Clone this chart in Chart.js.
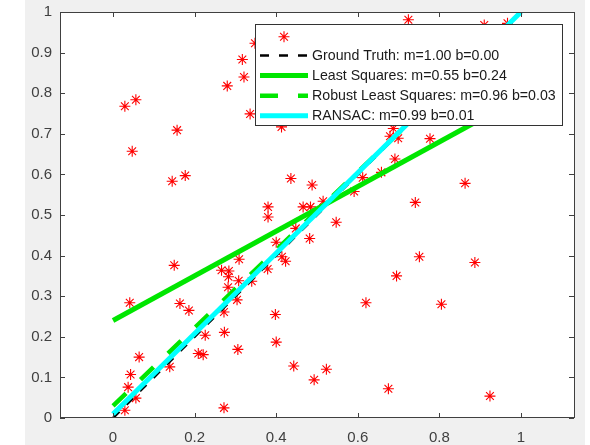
<!DOCTYPE html>
<html>
<head>
<meta charset="utf-8">
<script src="https://cdn.jsdelivr.net/npm/chart.js@4"></script>
<style>
  body { margin: 0; background: #fff; }
  canvas { display: block; }
</style>
</head>
<body>
<canvas id="fitChart" width="590" height="445"></canvas>
<script>
// noisy samples (inliers near y = x plus scattered outliers)
const pointsX = [0.029, 0.056, 0.047, 0.157, 0.145, 0.177, 0.280, 0.317, 0.321, 0.336,
                 0.348, 0.413, 0.436, 0.380, 0.380, 0.466, 0.484, 0.448, 0.724, 0.910,
                 0.967, 0.687, 0.679, 0.699, 0.777, 0.691, 0.658, 0.863, 0.612, 0.591,
                 0.741, 0.547, 0.488, 0.515, 0.482, 0.751, 0.887, 0.695, 0.620, 0.805,
                 0.443, 0.523, 0.493, 0.675, 0.924, 0.041, 0.150, 0.164, 0.186, 0.266,
                 0.284, 0.283, 0.282, 0.309, 0.308, 0.272, 0.304, 0.340, 0.379, 0.400,
                 0.414, 0.423, 0.398, 0.400, 0.273, 0.226, 0.209, 0.221, 0.306, 0.272,
                 0.064, 0.043, 0.037, 0.056, 0.029, 0.139];
const pointsY = [0.768, 0.784, 0.657, 0.709, 0.583, 0.597, 0.818, 0.883, 0.840, 0.749,
                 0.923, 0.717, 0.590, 0.520, 0.495, 0.520, 0.520, 0.467, 0.981, 0.968,
                 0.972, 0.713, 0.694, 0.689, 0.688, 0.638, 0.605, 0.578, 0.592, 0.558,
                 0.531, 0.482, 0.574, 0.534, 0.442, 0.397, 0.383, 0.350, 0.284, 0.280,
                 0.128, 0.120, 0.094, 0.072, 0.054, 0.284, 0.376, 0.282, 0.265, 0.364,
                 0.362, 0.348, 0.322, 0.391, 0.338, 0.261, 0.291, 0.337, 0.367, 0.433,
                 0.397, 0.386, 0.255, 0.187, 0.211, 0.204, 0.159, 0.156, 0.169, 0.025,
                 0.150, 0.107, 0.076, 0.049, 0.019, 0.126];

// fitted lines y = m*x + b, drawn over fitRange
const fitNames = ["Ground Truth", "Least Squares", "Robust Least Squares", "RANSAC"];
const fitSlopes = [1.00, 0.55, 0.96, 0.99];
const fitIntercepts = [0.00, 0.24, 0.03, 0.01];
const fitRange = [0, 1];

const xTicks = [0, 0.2, 0.4, 0.6, 0.8, 1];
const yTicks = [0, 0.1, 0.2, 0.3, 0.4, 0.5, 0.6, 0.7, 0.8, 0.9, 1];

const lineStyles = [
    { color: "#000000", width: 2.5, dash: [9, 10] },
    { color: "#00e600", width: 5, dash: [] },
    { color: "#00e600", width: 4.5, dash: [18, 20] },
    { color: "#00ffff", width: 5, dash: [] }
];

const axisColor = "#404040";
const fontFamily = '"Liberation Sans", Arial, Helvetica, sans-serif';

function fitLabel(i) {
    return `${fitNames[i]}: m=${fitSlopes[i].toFixed(2)} b=${fitIntercepts[i].toFixed(2)}`;
}

const datasets = [{
    label: "",
    data: pointsX.map((x, i) => ({ x: x, y: pointsY[i] })),
    showLine: false,
    pointStyle: "star",
    pointRadius: 5.5,
    borderColor: "#ff0000",
    backgroundColor: "#ff0000",
    pointBorderWidth: 1.1,
    order: 5
}];

fitNames.forEach((name, i) => {
    const s = lineStyles[i];
    datasets.push({
        label: fitLabel(i),
        data: fitRange.map(x => ({ x: x, y: fitSlopes[i] * x + fitIntercepts[i] })),
        showLine: true,
        pointRadius: 0,
        borderColor: s.color,
        borderWidth: s.width,
        borderDash: s.dash,
        borderCapStyle: "butt",
        order: 4 - i
    });
});

// star swatch for the legend's marker row
function drawStar(ctx, x, y, r) {
    const d = r * Math.SQRT1_2;
    ctx.beginPath();
    ctx.moveTo(x - r, y); ctx.lineTo(x + r, y);
    ctx.moveTo(x, y - r); ctx.lineTo(x, y + r);
    ctx.moveTo(x - d, y - d); ctx.lineTo(x + d, y + d);
    ctx.moveTo(x - d, y + d); ctx.lineTo(x + d, y - d);
    ctx.stroke();
}

function drawLegend(chart) {
    const { ctx, chartArea: a } = chart;
    ctx.save();
    ctx.font = "14.2px " + fontFamily;
    const labels = fitNames.map((n, i) => fitLabel(i));
    const right = a.right - 12;
    const top = a.top + 12;
    const left = right - 307;
    const bottom = top + 101;

    ctx.fillStyle = "#ffffff";
    ctx.fillRect(left, top, right - left, bottom - top);
    ctx.strokeStyle = "#333333";
    ctx.lineWidth = 1;
    ctx.strokeRect(left + 0.5, top + 0.5, right - left, bottom - top);

    ctx.strokeStyle = "#ff0000";
    ctx.lineWidth = 1.1;
    drawStar(ctx, left + 29, top + 12.7, 5.5);

    ctx.textBaseline = "middle";
    ctx.textAlign = "left";
    labels.forEach((t, i) => {
        const y = top + 31.5 + i * 20.1;
        const s = lineStyles[i];
        ctx.strokeStyle = s.color;
        ctx.lineWidth = s.width;
        ctx.setLineDash(s.dash);
        ctx.lineCap = "butt";
        ctx.beginPath();
        ctx.moveTo(left + 5, y);
        ctx.lineTo(left + 53, y);
        ctx.stroke();
        ctx.setLineDash([]);
        ctx.fillStyle = "#1a1a1a";
        ctx.fillText(t, left + 57, y + 0.5);
    });
    ctx.restore();
}

// figure background, axes box with inward ticks, legend
const matlabFrame = {
    id: "matlabFrame",
    beforeDraw(chart) {
        const { ctx, chartArea: a, width, height } = chart;
        ctx.save();
        ctx.fillStyle = "#ffffff";
        ctx.fillRect(0, 0, width, height);
        ctx.fillStyle = "#f0f0f0";
        ctx.fillRect(25, 0, 560, height);
        ctx.fillStyle = "#ffffff";
        ctx.fillRect(a.left, a.top, a.right - a.left, a.bottom - a.top);
        ctx.restore();
    },
    afterDraw(chart) {
        const { ctx, chartArea: a } = chart;
        drawLegend(chart);
        ctx.save();
        ctx.strokeStyle = axisColor;
        ctx.lineWidth = 1;
        ctx.strokeRect(a.left + 0.5, a.top + 0.5, a.right - a.left, a.bottom - a.top - 1);
        ctx.beginPath();
        xTicks.forEach(v => {
            const px = Math.round(chart.scales.x.getPixelForValue(v)) + 0.5;
            ctx.moveTo(px, a.bottom); ctx.lineTo(px, a.bottom - 5);
            ctx.moveTo(px, a.top); ctx.lineTo(px, a.top + 5);
        });
        yTicks.forEach(v => {
            const py = Math.round(chart.scales.y.getPixelForValue(v)) + 0.5;
            ctx.moveTo(a.left, py); ctx.lineTo(a.left + 5, py);
            ctx.moveTo(a.right, py); ctx.lineTo(a.right - 5, py);
        });
        ctx.stroke();
        ctx.restore();
    }
};

const tickFont = { family: fontFamily, size: 15 };

new Chart(document.getElementById("fitChart"), {
    type: "scatter",
    data: { datasets: datasets },
    options: {
        responsive: false,
        animation: false,
        events: [],
        layout: { padding: { top: 12, right: 16, left: 0, bottom: 0 } },
        plugins: {
            legend: { display: false },
            tooltip: { enabled: false }
        },
        scales: {
            x: {
                type: "linear",
                min: -0.13,
                max: 1.13,
                afterBuildTicks: s => { s.ticks = xTicks.map(v => ({ value: v })); },
                afterFit: s => { s.height = 27; s.paddingLeft = 0; s.paddingRight = 0; },
                grid: { display: false, drawTicks: false },
                border: { display: false },
                ticks: {
                    color: axisColor, font: tickFont, padding: 11,
                    maxRotation: 0, autoSkip: false,
                    callback: v => String(+v.toFixed(2))
                }
            },
            y: {
                type: "linear",
                min: 0,
                max: 1,
                afterBuildTicks: s => { s.ticks = yTicks.map(v => ({ value: v })); },
                afterFit: s => { s.width = 60; s.paddingTop = 0; s.paddingBottom = 0; },
                grid: { display: false, drawTicks: false },
                border: { display: false },
                ticks: {
                    color: axisColor, font: tickFont, padding: 8,
                    autoSkip: false,
                    callback: v => String(+v.toFixed(2))
                }
            }
        }
    },
    plugins: [matlabFrame]
});
</script>
</body>
</html>
